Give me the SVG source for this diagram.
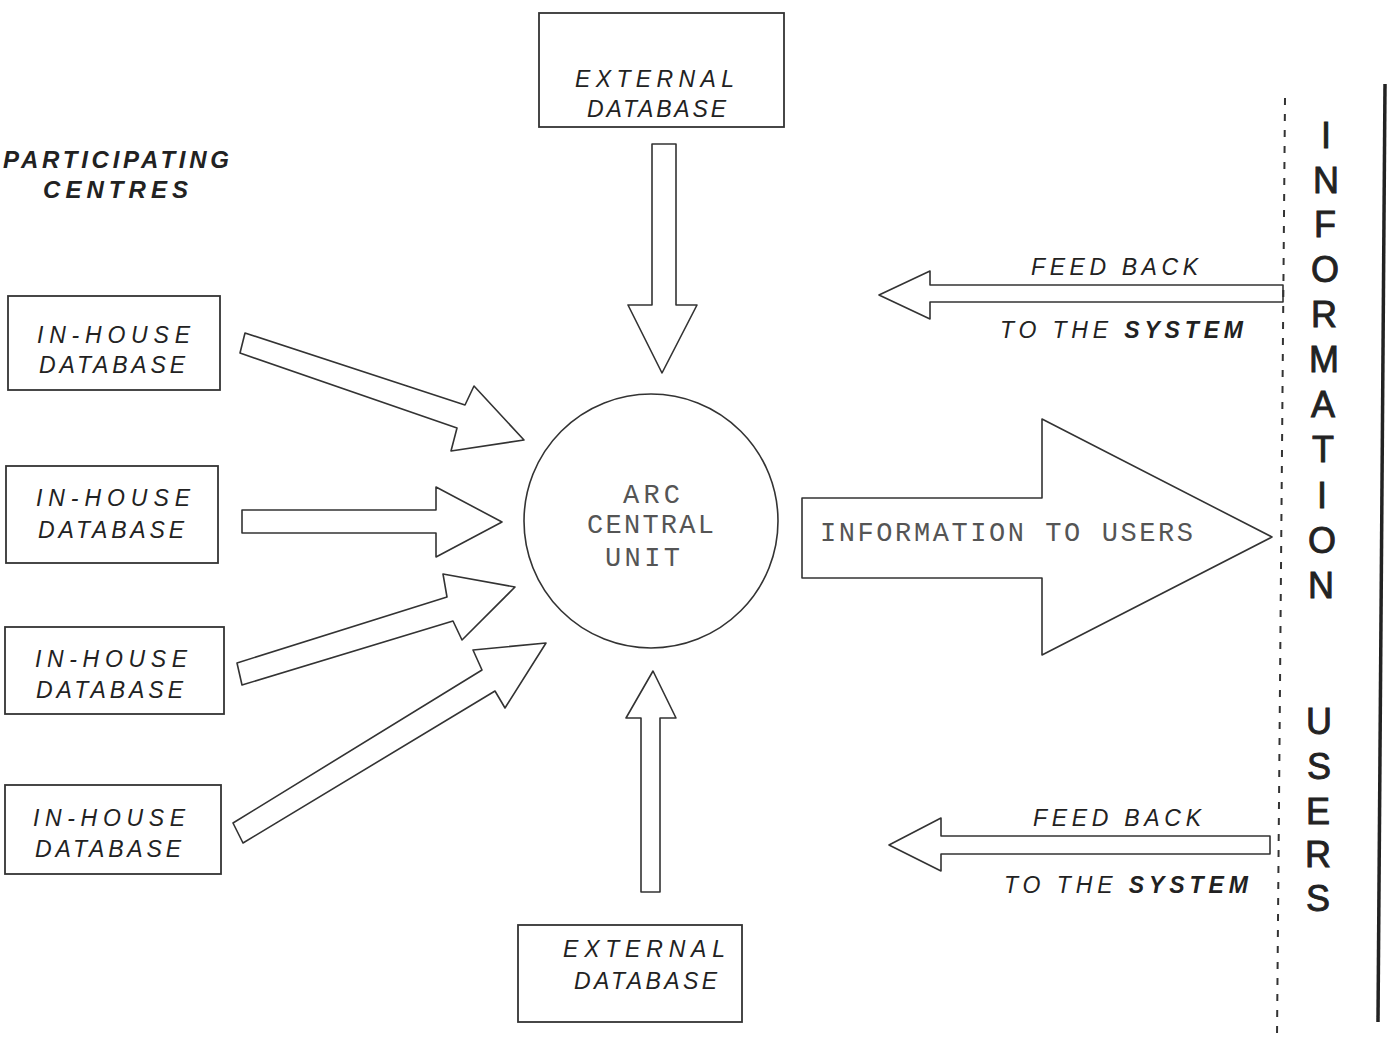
<svg xmlns="http://www.w3.org/2000/svg" width="1388" height="1037" viewBox="0 0 1388 1037">
  <style>
    .box { fill: #fff; stroke: #333; stroke-width: 1.8; }
    .arrow { fill: #fff; stroke: #333; stroke-width: 1.6; stroke-linejoin: round; }
    .lbl { font-family: "Liberation Sans", Arial, sans-serif; font-style: italic; font-size: 23px; fill: #222; }
    .head { font-family: "Liberation Sans", Arial, sans-serif; font-style: italic; font-weight: bold; font-size: 24px; fill: #222; }
    .mono { font-family: "Liberation Mono", "Courier New", monospace; font-size: 27px; fill: #555; }
    .side { font-family: "Liberation Sans", Arial, sans-serif; font-size: 36px; fill: #222; stroke: #222; stroke-width: 0.9; text-anchor: middle; }
    .bold { font-weight: bold; }
  </style>
  <rect width="1388" height="1037" fill="#fff"/>

  <!-- heading on the left -->
  <g id="participating-centres">
    <text class="head" x="3" y="168" textLength="226" lengthAdjust="spacing">PARTICIPATING</text>
    <text class="head" x="43" y="198" textLength="145" lengthAdjust="spacing">CENTRES</text>
  </g>

  <!-- external databases -->
  <g id="external-top">
    <rect class="box" x="539" y="13" width="245" height="114"/>
    <text class="lbl" x="575" y="87" textLength="159" lengthAdjust="spacing">EXTERNAL</text>
    <text class="lbl" x="587" y="117" textLength="139" lengthAdjust="spacing">DATABASE</text>
  </g>
  <g id="external-bottom">
    <rect class="box" x="518" y="925" width="224" height="97"/>
    <text class="lbl" x="563" y="957" textLength="162" lengthAdjust="spacing">EXTERNAL</text>
    <text class="lbl" x="574" y="989" textLength="143" lengthAdjust="spacing">DATABASE</text>
  </g>

  <!-- in-house databases -->
  <g id="inhouse-1">
    <rect class="box" x="8" y="296" width="212" height="94"/>
    <text class="lbl" x="37" y="343" textLength="153" lengthAdjust="spacing">IN-HOUSE</text>
    <text class="lbl" x="39" y="373" textLength="146" lengthAdjust="spacing">DATABASE</text>
  </g>
  <g id="inhouse-2">
    <rect class="box" x="6" y="466" width="212" height="97"/>
    <text class="lbl" x="36" y="506" textLength="154" lengthAdjust="spacing">IN-HOUSE</text>
    <text class="lbl" x="38" y="538" textLength="146" lengthAdjust="spacing">DATABASE</text>
  </g>
  <g id="inhouse-3">
    <rect class="box" x="5" y="627" width="219" height="87"/>
    <text class="lbl" x="35" y="667" textLength="152" lengthAdjust="spacing">IN-HOUSE</text>
    <text class="lbl" x="36" y="698" textLength="147" lengthAdjust="spacing">DATABASE</text>
  </g>
  <g id="inhouse-4">
    <rect class="box" x="5" y="785" width="216" height="89"/>
    <text class="lbl" x="33" y="826" textLength="152" lengthAdjust="spacing">IN-HOUSE</text>
    <text class="lbl" x="35" y="857" textLength="146" lengthAdjust="spacing">DATABASE</text>
  </g>

  <!-- central unit -->
  <g id="arc-central-unit">
    <circle cx="651" cy="521" r="127" fill="#fff" stroke="#333" stroke-width="1.6"/>
    <text class="mono" x="623" y="503" textLength="57" lengthAdjust="spacing">ARC</text>
    <text class="mono" x="587" y="533" textLength="127" lengthAdjust="spacing">CENTRAL</text>
    <text class="mono" x="605" y="566" textLength="75" lengthAdjust="spacing">UNIT</text>
  </g>

  <!-- block arrows -->
  <g id="connectors">
    <polygon class="arrow" points="245,333 465,405 474,386 524,440 451,451 457,428 240,353"/>
    <polygon class="arrow" points="242,510 436,510 436,487 502,522 436,557 436,533 242,533"/>
    <polygon class="arrow" points="237,663 447,597 443,574 515,587 462,640 453,621 242,685"/>
    <polygon class="arrow" points="233,823 482,670 473,650 546,643 505,708 495,691 243,843"/>
    <polygon class="arrow" points="652,144 676,144 676,305 697,305 662,373 628,305 652,305" stroke="#555"/>
    <polygon class="arrow" points="641,892 660,892 660,718 676,718 653,671 626,718 641,718" stroke="#555"/>
    <polygon class="arrow" points="802,498 1042,498 1042,419 1272,537 1042,655 1042,578 802,578"/>
    <polygon class="arrow" points="1283,285 930,285 930,271 879,295 930,319 930,302 1283,302"/>
    <polygon class="arrow" points="1270,836 941,836 941,818 889,845 941,871 941,854 1270,854"/>
  </g>

  <!-- arrow captions -->
  <g id="captions">
    <text class="mono" x="820" y="541" textLength="373" lengthAdjust="spacing">INFORMATION TO USERS</text>
    <text class="lbl" x="1031" y="275" textLength="167" lengthAdjust="spacing">FEED BACK</text>
    <text class="lbl" x="1000" y="338" textLength="243" lengthAdjust="spacing">TO THE <tspan class="bold">SYSTEM</tspan></text>
    <text class="lbl" x="1033" y="826" textLength="168" lengthAdjust="spacing">FEED BACK</text>
    <text class="lbl" x="1004" y="893" textLength="244" lengthAdjust="spacing">TO THE <tspan class="bold">SYSTEM</tspan></text>
  </g>

  <!-- user side boundary -->
  <g id="boundary">
    <line x1="1285" y1="98" x2="1277" y2="1037" stroke="#333" stroke-width="2" stroke-dasharray="7 9"/>
    <line x1="1385" y1="84" x2="1378" y2="1022" stroke="#222" stroke-width="3.5"/>
  </g>

  <g id="information-users">
    <text class="side" x="1326" y="148">I</text>
    <text class="side" x="1326" y="193">N</text>
    <text class="side" x="1325" y="237">F</text>
    <text class="side" x="1325" y="282">O</text>
    <text class="side" x="1324" y="327">R</text>
    <text class="side" x="1324" y="372">M</text>
    <text class="side" x="1323" y="417">A</text>
    <text class="side" x="1323" y="462">T</text>
    <text class="side" x="1322" y="508">I</text>
    <text class="side" x="1322" y="553">O</text>
    <text class="side" x="1321" y="598">N</text>
    <text class="side" x="1319" y="734">U</text>
    <text class="side" x="1319" y="779">S</text>
    <text class="side" x="1318" y="824">E</text>
    <text class="side" x="1318" y="867">R</text>
    <text class="side" x="1318" y="911">S</text>
  </g>
</svg>
